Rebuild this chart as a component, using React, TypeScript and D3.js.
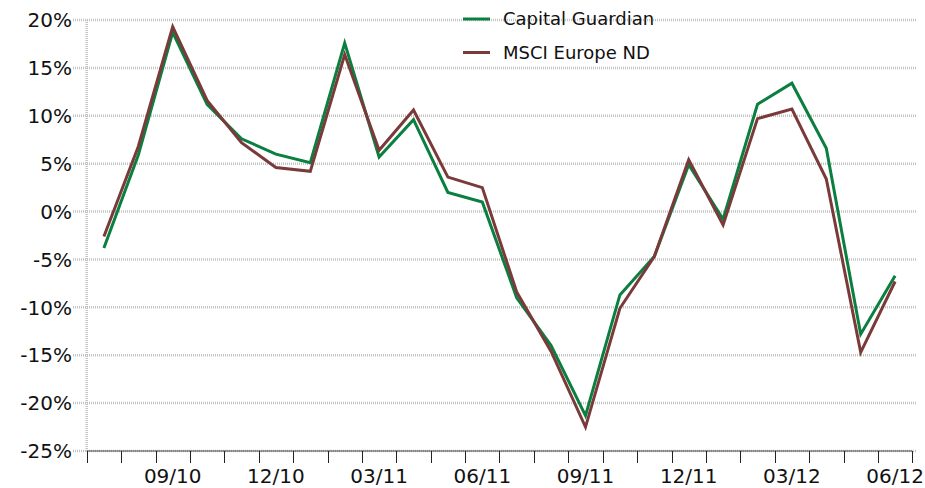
import { useEffect, useRef } from "react";
import * as d3 from "d3";

const months = [
  "07/10", "08/10", "09/10", "10/10", "11/10", "12/10",
  "01/11", "02/11", "03/11", "04/11", "05/11", "06/11",
  "07/11", "08/11", "09/11", "10/11", "11/11", "12/11",
  "01/12", "02/12", "03/12", "04/12", "05/12", "06/12",
];
const shownLabels = ["09/10", "12/10", "03/11", "06/11", "09/11", "12/11", "03/12", "06/12"];

const capitalGuardian = [
  -3.8, 5.9, 18.7, 11.2, 7.6, 6.0, 5.1, 17.6, 5.7, 9.6, 2.0, 1.0,
  -9.0, -14.0, -21.3, -8.7, -4.7, 4.9, -0.8, 11.2, 13.4, 6.6, -12.8, -6.7,
];
const msciEurope = [
  -2.6, 6.8, 19.3, 11.6, 7.2, 4.6, 4.2, 16.4, 6.4, 10.6, 3.6, 2.5,
  -8.4, -14.6, -22.5, -10.1, -4.7, 5.4, -1.4, 9.7, 10.7, 3.4, -14.7, -7.3,
];
const yTicks = [20, 15, 10, 5, 0, -5, -10, -15, -20, -25];

const seriesNames = ["Capital Guardian", "MSCI Europe ND"];
const seriesColors = ["#0a7f3f", "#7b3a3a"];

export default function App() {
  const ref = useRef<SVGSVGElement>(null);

  useEffect(() => {
    const svg = d3.select(ref.current);
    svg.selectAll("*").remove();

    const width = 925;
    const height = 488;
    const left = 86.7;
    const right = 912.3;
    const top = 20;
    const bottom = 451;
    const font = "'DejaVu Sans', Verdana, sans-serif";

    const x = d3.scaleBand().domain(months).range([left, right]);
    const y = d3.scaleLinear().domain([-25, 20]).range([bottom, top]);

    svg.attr("width", width).attr("height", height);

    // horizontal grid
    svg.append("g")
      .selectAll("line")
      .data(yTicks)
      .join("line")
      .attr("x1", 73)
      .attr("x2", 917)
      .attr("y1", d => y(d))
      .attr("y2", d => y(d))
      .attr("stroke", "#c4c4c4")
      .attr("stroke-width", 2.5)
      .attr("stroke-dasharray", "1 1");

    // left dotted axis
    svg.append("line")
      .attr("x1", left).attr("x2", left)
      .attr("y1", top).attr("y2", bottom)
      .attr("stroke", "#c4c4c4")
      .attr("stroke-width", 2.5)
      .attr("stroke-dasharray", "1 1");

    // y labels
    svg.append("g")
      .selectAll("text")
      .data(yTicks)
      .join("text")
      .attr("x", 72)
      .attr("y", d => y(d))
      .attr("dy", "0.36em")
      .attr("text-anchor", "end")
      .attr("font-family", font)
      .attr("font-size", 20)
      .attr("fill", "#111")
      .text(d => `${d}%`);

    // bottom axis
    svg.append("line")
      .attr("x1", left).attr("x2", right)
      .attr("y1", bottom).attr("y2", bottom)
      .attr("stroke", "#444")
      .attr("stroke-width", 1);

    const tickPos = months.map(m => x(m)!).concat([right]);
    svg.append("g")
      .selectAll("line")
      .data(tickPos)
      .join("line")
      .attr("x1", d => Math.round(d) + 0.5)
      .attr("x2", d => Math.round(d) + 0.5)
      .attr("y1", bottom)
      .attr("y2", bottom + 12)
      .attr("stroke", "#222")
      .attr("stroke-width", 1);

    svg.append("g")
      .selectAll("text")
      .data(shownLabels)
      .join("text")
      .attr("x", d => x(d)! + x.bandwidth() / 2)
      .attr("y", 483)
      .attr("text-anchor", "middle")
      .attr("font-family", font)
      .attr("font-size", 20)
      .attr("fill", "#111")
      .text(d => d);

    // lines
    const line = d3.line<number>()
      .x((_, i) => x(months[i])! + x.bandwidth() / 2)
      .y(d => y(d));

    [capitalGuardian, msciEurope].forEach((s, i) => {
      svg.append("path")
        .attr("d", line(s)!)
        .attr("fill", "none")
        .attr("stroke", seriesColors[i])
        .attr("stroke-width", 3)
        .attr("stroke-linejoin", "miter");
    });

    // legend
    const legend = svg.append("g");
    seriesNames.forEach((name, i) => {
      const ly = 19 + i * 33.5;
      legend.append("line")
        .attr("x1", 463).attr("x2", 490)
        .attr("y1", ly).attr("y2", ly)
        .attr("stroke", seriesColors[i])
        .attr("stroke-width", 3);
      legend.append("text")
        .attr("x", 503)
        .attr("y", ly + 6)
        .attr("font-family", font)
        .attr("font-size", 18)
        .attr("fill", "#111")
        .text(name);
    });
  }, []);

  return (
    <svg
      ref={ref}
      style={{ position: "absolute", left: 0, top: 0, background: "#fff" }}
    />
  );
}
